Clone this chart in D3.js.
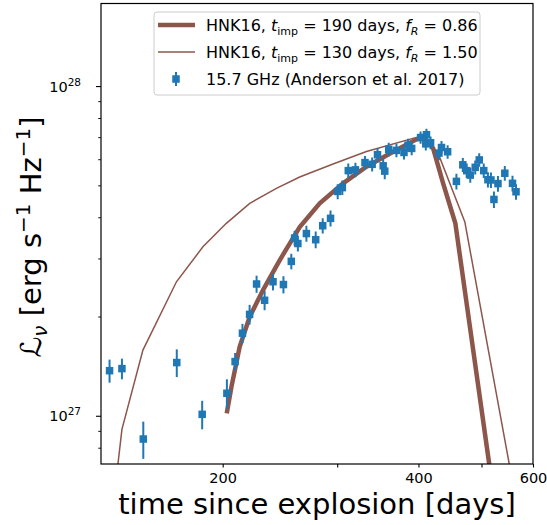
<!DOCTYPE html>
<html>
<head>
<meta charset="utf-8">
<script src="https://cdn.jsdelivr.net/npm/d3@7"></script>
<style>
  body { margin: 0; background: white; }
  text { font-family: "DejaVu Sans", sans-serif; }
</style>
</head>
<body>
<div class="chart"></div>
<script>
// luminosities are in units of 1e27 erg/s/Hz
var obsDays = [134, 140, 151, 170, 186, 203, 209, 214.5, 220, 225.5, 232, 239, 248, 255, 258, 261, 269, 278, 285, 293,
    300.5, 305.5, 312, 320, 331, 339.5, 346, 353, 355, 360, 370, 380, 385.5, 390.5, 403, 411.5, 410.5, 417.5, 430, 434,
    443.5, 457.5, 468, 474.5, 480.5, 489, 496, 504, 511.5, 517, 522.5, 530, 543, 558, 565];
var obsLum = [1.37, 1.39, 0.85, 1.45, 1.01, 1.17, 1.46, 1.78, 2.03, 2.51, 2.24, 2.55, 2.50, 2.94, 3.46, 3.33, 3.57, 3.42, 3.77, 3.97,
    4.79, 4.92, 5.54, 5.57, 5.86, 5.79, 6.19, 5.73, 5.52, 6.43, 6.38, 6.29, 6.62, 6.47, 6.98, 7.12, 6.68, 6.73, 6.26, 6.51,
    6.32, 5.14, 5.77, 5.54, 5.37, 5.67, 5.97, 5.54, 5.20, 5.19, 4.53, 5.06, 5.44, 5.07, 4.78];
var obsErr = [0.11, 0.10, 0.11, 0.14, 0.10, 0.12, 0.09, 0.12, 0.14, 0.15, 0.15, 0.15, 0.15, 0.16, 0.18, 0.18, 0.20, 0.20, 0.20, 0.22,
    0.25, 0.25, 0.28, 0.28, 0.28, 0.28, 0.30, 0.30, 0.30, 0.30, 0.30, 0.30, 0.30, 0.30, 0.30, 0.30, 0.30, 0.30, 0.30, 0.30,
    0.30, 0.28, 0.28, 0.28, 0.28, 0.28, 0.28, 0.28, 0.28, 0.28, 0.26, 0.28, 0.28, 0.28, 0.26];

var model190Days = [202.9, 206.3, 212.4, 220.1, 230.7, 244.8, 262.7, 282.0, 306.3, 332.7, 365.6, 397.2, 409.1, 421.3, 436.5, 455.8, 513.7, 527.3];
var model190Lum = [1.017, 1.224, 1.619, 1.997, 2.406, 2.967, 3.736, 4.408, 5.069, 5.692, 6.319, 6.892, 6.955, 6.471, 5.069, 3.834, 0.717, 0.5];

var model130Days = [135.2, 140.0, 150.8, 169.8, 186.5, 202.6, 220.1, 241.9, 262.7, 295.6, 332.7, 397.2, 406.2, 428.9, 471.4, 551.4, 570.3];
var model130Lum = [0.5, 0.909, 1.582, 2.549, 3.254, 3.834, 4.408, 4.894, 5.297, 5.80, 6.33, 6.989, 7.077, 6.25, 3.868, 0.717, 0.5];

var xTicks = [200, 300, 400, 500, 600];
var xTickLabels = ["200", "", "400", "", "600"];
var yMajorTicks = [1, 10];
var yMajorExp = ["27", "28"];
var yMinorTicks = [0.8, 0.9, 2, 3, 4, 5, 6, 7, 8, 9];

var legendLabels = [
    ["190", "0.86"],
    ["130", "1.50"]
];

var width = 547;
var height = 525;
var margin = {top: 3.5, right: 14, bottom: 61, left: 101};
var plotW = width - margin.left - margin.right;
var plotH = height - margin.top - margin.bottom;

var blue = "#1f77b4";
var brown = "#8c564b";

var x = d3.scaleLog().domain([130, 600]).range([0, plotW]);
var y = d3.scaleLog().domain([0.714, 17.8]).range([plotH, 0]);

var svg = d3.select(".chart")
    .append("svg")
    .attr("width", width)
    .attr("height", height);

svg.append("defs").append("clipPath")
    .attr("id", "plotClip")
    .append("rect")
    .attr("width", plotW)
    .attr("height", plotH);

var g = svg.append("g")
    .attr("transform", "translate(" + margin.left + "," + margin.top + ")");

var plotArea = g.append("g").attr("clip-path", "url(#plotClip)");

var line = d3.line()
    .x(function(d) { return x(d[0]); })
    .y(function(d) { return y(d[1]); });

plotArea.append("path")
    .attr("d", line(d3.zip(model190Days, model190Lum)))
    .attr("fill", "none")
    .attr("stroke", brown)
    .attr("stroke-width", 4.5);

plotArea.append("path")
    .attr("d", line(d3.zip(model130Days, model130Lum)))
    .attr("fill", "none")
    .attr("stroke", brown)
    .attr("stroke-width", 1.5);

var obs = obsDays.map(function(d, i) {
    return {t: d, l: obsLum[i], e: obsErr[i]};
});

plotArea.selectAll(".errBar")
    .data(obs)
    .enter().append("line")
    .attr("class", "errBar")
    .attr("x1", function(d) { return x(d.t); })
    .attr("x2", function(d) { return x(d.t); })
    .attr("y1", function(d) { return y(d.l + d.e); })
    .attr("y2", function(d) { return y(d.l - d.e); })
    .attr("stroke", blue)
    .attr("stroke-width", 2);

var ms = 7.5;
plotArea.selectAll(".obsDot")
    .data(obs)
    .enter().append("rect")
    .attr("class", "obsDot")
    .attr("x", function(d) { return x(d.t) - ms / 2; })
    .attr("y", function(d) { return y(d.l) - ms / 2; })
    .attr("width", ms)
    .attr("height", ms)
    .attr("fill", blue);

// axes
var xAxis = d3.axisBottom(x)
    .tickValues(xTicks)
    .tickSize(3.5)
    .tickPadding(5)
    .tickFormat(function(d, i) { return xTickLabels[i]; });

var xg = g.append("g")
    .attr("transform", "translate(0," + plotH + ")")
    .call(xAxis);
xg.select(".domain").remove();
xg.selectAll("text").attr("font-size", 14.5).attr("fill", "#000").attr("font-family", "DejaVu Sans");
xg.selectAll("line").attr("stroke", "#000").attr("stroke-width", 1.1);

var yMinor = g.append("g")
    .call(d3.axisLeft(y).tickValues(yMinorTicks).tickSize(2.8).tickFormat(""));
yMinor.select(".domain").remove();
yMinor.selectAll("line").attr("stroke", "#000").attr("stroke-width", 0.9);

var yMajor = g.append("g")
    .call(d3.axisLeft(y).tickValues(yMajorTicks).tickSize(5).tickFormat(""));
yMajor.select(".domain").remove();
yMajor.selectAll("line").attr("stroke", "#000").attr("stroke-width", 1.1);

yMajor.selectAll(".tick").each(function(d, i) {
    var t = d3.select(this).append("text")
        .attr("x", -20)
        .attr("y", 5)
        .attr("text-anchor", "end")
        .attr("fill", "#000")
        .attr("font-size", 14.5);
    t.append("tspan").text("10");
    t.append("tspan").attr("dy", -6).attr("font-size", 10.5).text(yMajorExp[i]);
});

g.append("rect")
    .attr("width", plotW)
    .attr("height", plotH)
    .attr("fill", "none")
    .attr("stroke", "#000")
    .attr("stroke-width", 1.2);

// axis labels
svg.append("text")
    .attr("x", 317)
    .attr("y", 514)
    .attr("text-anchor", "middle")
    .attr("font-size", 29)
    .text("time since explosion [days]");

var yLabel = svg.append("text")
    .attr("transform", "translate(41," + 237 + ") rotate(-90)")
    .attr("text-anchor", "middle")
    .attr("font-size", 29);
yLabel.append("tspan").attr("font-style", "italic").text("ℒ");
yLabel.append("tspan").attr("dy", 6).attr("font-size", 20).attr("font-style", "italic").text("ν");
yLabel.append("tspan").attr("dy", -6).text(" [erg s");
yLabel.append("tspan").attr("dy", -11).attr("font-size", 20).text("−1");
yLabel.append("tspan").attr("dy", 11).text(" Hz");
yLabel.append("tspan").attr("dy", -11).attr("font-size", 20).text("−1");
yLabel.append("tspan").attr("dy", 11).text("]");

// legend
var legend = svg.append("g");
legend.append("rect")
    .attr("x", 154)
    .attr("y", 12)
    .attr("width", 326)
    .attr("height", 83)
    .attr("rx", 3)
    .attr("fill", "white")
    .attr("fill-opacity", 0.8)
    .attr("stroke", "#cccccc");

var rowY = [25, 52, 79];
[4.5, 1.5].forEach(function(w, i) {
    legend.append("line")
        .attr("x1", 158).attr("x2", 195)
        .attr("y1", rowY[i]).attr("y2", rowY[i])
        .attr("stroke", brown)
        .attr("stroke-width", w);
    var t = legend.append("text")
        .attr("x", 206)
        .attr("y", rowY[i] + 5.5)
        .attr("font-size", 16);
    t.append("tspan").text("HNK16, ");
    t.append("tspan").attr("font-style", "italic").text("t");
    t.append("tspan").attr("dy", 4).attr("font-size", 11).text("imp");
    t.append("tspan").attr("dy", -4).text(" = " + legendLabels[i][0] + " days,  ");
    t.append("tspan").attr("font-style", "italic").text("f");
    t.append("tspan").attr("dy", 4).attr("font-size", 11).attr("font-style", "italic").text("R");
    t.append("tspan").attr("dy", -4).text(" = " + legendLabels[i][1]);
});

legend.append("line")
    .attr("x1", 176).attr("x2", 176)
    .attr("y1", rowY[2] - 7).attr("y2", rowY[2] + 7)
    .attr("stroke", blue)
    .attr("stroke-width", 2);
legend.append("rect")
    .attr("x", 176 - ms / 2)
    .attr("y", rowY[2] - ms / 2)
    .attr("width", ms)
    .attr("height", ms)
    .attr("fill", blue);
legend.append("text")
    .attr("x", 206)
    .attr("y", rowY[2] + 5.5)
    .attr("font-size", 16)
    .text("15.7 GHz (Anderson et al. 2017)");
</script>
</body>
</html>
